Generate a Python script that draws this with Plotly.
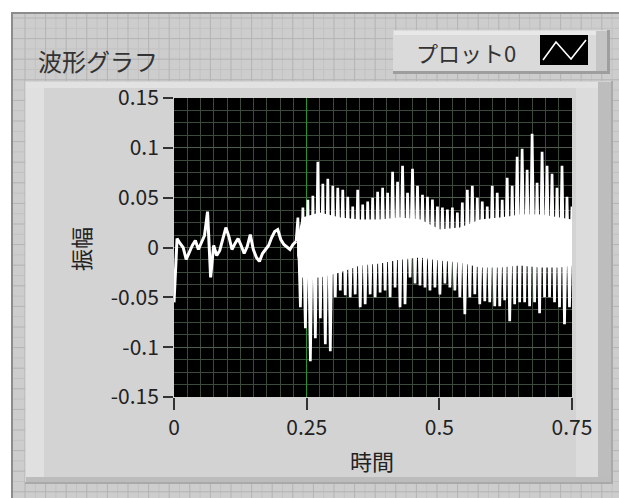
import plotly.graph_objects as go

# ---------------- data ----------------
x_tick_vals = [0, 0.25, 0.5, 0.75]
x_tick_text = ["0", "0.25", "0.5", "0.75"]
y_tick_vals = [-0.15, -0.1, -0.05, 0, 0.05, 0.1, 0.15]
y_tick_text = ["-0.15", "-0.1", "-0.05", "0", "0.05", "0.1", "0.15"]

# quiet segment, t = 0 .. 0.23 (uniform sampling)
quiet_t0 = 0.0
quiet_dt = 0.00575
quiet_vals = [-0.055, 0.009, 0.004, 0.0, -0.012, -0.004, 0.002, 0.007, -0.002, 0.005,
              0.012, 0.036, -0.03, 0.002, -0.008, -0.003, 0.008, 0.02, 0.011, -0.002,
              0.004, 0.009, 0.002, -0.006, 0.001, 0.013, -0.002, -0.01, -0.014, -0.006,
              -0.002, 0.002, 0.01, 0.016, 0.018, 0.008, 0.003, 0.0, -0.002, 0.003, 0.006]

# loud segment: positive and negative spike peaks, alternating
loud_t0 = 0.2335
loud_dt = 0.00939
upper_peaks = [0.03, 0.04, 0.048, 0.052, 0.086, 0.064, 0.069, 0.062, 0.06, 0.058,
               0.051, 0.041, 0.058, 0.043, 0.046, 0.05, 0.056, 0.06, 0.055, 0.076,
               0.066, 0.082, 0.055, 0.079, 0.062, 0.053, 0.051, 0.048, 0.041, 0.04,
               0.038, 0.04, 0.035, 0.045, 0.058, 0.062, 0.05, 0.046, 0.041, 0.062,
               0.055, 0.048, 0.07, 0.062, 0.091, 0.099, 0.078, 0.114, 0.065, 0.096,
               0.082, 0.074, 0.06, 0.082, 0.051, 0.041]
lower_peaks = [-0.06, -0.081, -0.114, -0.091, -0.071, -0.097, -0.104, -0.05, -0.043, -0.048,
               -0.05, -0.047, -0.06, -0.057, -0.047, -0.05, -0.045, -0.043, -0.05, -0.04,
               -0.06, -0.057, -0.03, -0.036, -0.038, -0.04, -0.043, -0.04, -0.047, -0.036,
               -0.04, -0.043, -0.05, -0.067, -0.05, -0.047, -0.057, -0.054, -0.055, -0.059,
               -0.059, -0.053, -0.074, -0.057, -0.055, -0.055, -0.059, -0.055, -0.066, -0.05,
               -0.05, -0.055, -0.06, -0.077, -0.06, -0.057]

# dense (solid white) core of the loud segment
core_t = [0.232, 0.241, 0.275, 0.313, 0.350, 0.388, 0.426, 0.464, 0.501, 0.539,
          0.577, 0.614, 0.652, 0.690, 0.727, 0.75]
core_top = [0.008, 0.03, 0.035, 0.03, 0.028, 0.028, 0.03, 0.028, 0.018, 0.02,
            0.028, 0.03, 0.033, 0.033, 0.03, 0.028]
core_bottom = [-0.008, -0.03, -0.03, -0.025, -0.018, -0.016, -0.012, -0.01, -0.013, -0.015,
               -0.02, -0.02, -0.018, -0.02, -0.02, -0.018]

# ---------------- build series ----------------
quiet_t = [quiet_t0 + i * quiet_dt for i in range(len(quiet_vals))]
loud_t, loud_v = [quiet_t[-1]], [quiet_vals[-1]]
for i, (hi, lo) in enumerate(zip(upper_peaks, lower_peaks)):
    t = loud_t0 + i * loud_dt
    loud_t += [t, t + loud_dt / 2]
    loud_v += [hi, lo]

# ---------------- geometry helpers (pixel -> paper) ----------------
W, H = 619, 498
L, R, T, B = 174, 572, 98, 397


def px(x):
    return (x - L) / (R - L)


def py(y):
    return (B - y) / (B - T)


def rect(x0, y0, x1, y1, fill, line=None, lw=0):
    return dict(type="rect", xref="paper", yref="paper", layer="below",
                x0=px(x0), x1=px(x1), y0=py(y1), y1=py(y0),
                fillcolor=fill, line=dict(color=line or fill, width=lw))


def seg_path(segs):
    return " ".join(f"M{px(a)},{py(b)} L{px(c)},{py(d)}" for a, b, c, d in segs)


shapes = []
# front-panel background with grid
shapes.append(rect(12, 13, 625, 505, "#cdcdcd", "#8c8c8c", 2))
grid_major, grid_minor = [], []
k = 0
x = 25.0
while x < 619:
    (grid_major if k % 2 == 0 else grid_minor).append((x, 14, x, 498))
    x += 10.3
    k += 1
k = 0
y = 18.0
while y < 498:
    (grid_major if k % 2 == 0 else grid_minor).append((13, y, 619, y))
    y += 10.3
    k += 1
shapes.append(dict(type="path", xref="paper", yref="paper", layer="below",
                   path=seg_path(grid_minor), line=dict(color="#c2c2c2", width=1)))
shapes.append(dict(type="path", xref="paper", yref="paper", layer="below",
                   path=seg_path(grid_major), line=dict(color="#b3b3b3", width=1)))

# graph frame (beveled)
shapes.append(rect(25, 81, 613, 484, "#a9a9a9"))
shapes.append(rect(25, 81, 611, 482, "#d3d3d3"))
shapes.append(rect(26, 82, 44, 481, "#e0e0e0"))
shapes.append(rect(26, 82, 610, 88, "#e2e2e2"))
shapes.append(rect(576, 88, 598, 480, "#dcdcdc"))
shapes.append(rect(598, 82, 611, 482, "#bdbdbd"))
shapes.append(rect(26, 477, 611, 482, "#bcbcbc"))

# legend box
shapes.append(rect(393, 30, 610, 74, "#9e9e9e"))
shapes.append(rect(393, 30, 607, 71, "#dadada"))
shapes.append(rect(394, 31, 606, 35, "#e8e8e8"))
shapes.append(rect(596, 31, 607, 71, "#c4c4c4"))
shapes.append(rect(540, 35, 588, 65, "#000000"))
shapes.append(dict(type="path", xref="paper", yref="paper", layer="below",
                   path=f"M{px(543)},{py(60)} L{px(556)},{py(42)} L{px(571)},{py(59)} L{px(586)},{py(40)}",
                   line=dict(color="#ffffff", width=1.6)))

# plot area
shapes.append(dict(type="rect", xref="paper", yref="paper", layer="below",
                   x0=0, x1=1, y0=0, y1=1, fillcolor="#000000", line=dict(width=0)))

FONT = "Noto Sans CJK JP"
annotations = [
    dict(text="波形グラフ", xref="paper", yref="paper", x=px(36), y=py(60),
         xanchor="left", yanchor="middle", showarrow=False,
         font=dict(family=FONT, size=24, color="#333333")),
    dict(text="プロット0", xref="paper", yref="paper", x=px(518), y=py(52),
         xanchor="right", yanchor="middle", showarrow=False,
         font=dict(family=FONT, size=22, color="#333333")),
    dict(text="時間", xref="paper", yref="paper", x=px(372), y=py(460),
         xanchor="center", yanchor="middle", showarrow=False,
         font=dict(family=FONT, size=22, color="#222222")),
    dict(text="振幅", xref="paper", yref="paper", x=px(80), y=py(249),
         xanchor="center", yanchor="middle", showarrow=False, textangle=-90,
         font=dict(family=FONT, size=22, color="#222222")),
]

fig = go.Figure()
fig.add_trace(go.Scatter(
    x=core_t + core_t[::-1], y=core_top + core_bottom[::-1],
    fill="toself", fillcolor="#ffffff", mode="lines", line=dict(width=0, color="#ffffff"),
    hoverinfo="skip", showlegend=False))
fig.add_trace(go.Scatter(
    x=quiet_t, y=quiet_vals, mode="lines",
    line=dict(color="#ffffff", width=3), showlegend=False))
fig.add_trace(go.Scatter(
    x=loud_t, y=loud_v, mode="lines",
    line=dict(color="#ffffff", width=2.7), showlegend=False))

fig.update_layout(
    width=W, height=H,
    margin=dict(l=L, r=W - R, t=T, b=H - B),
    paper_bgcolor="#ffffff", plot_bgcolor="#000000",
    shapes=shapes, annotations=annotations, showlegend=False,
    font=dict(family=FONT, color="#222222"),
    xaxis=dict(range=[0, 0.75], tickvals=x_tick_vals, ticktext=x_tick_text,
               ticks="outside", ticklen=12, tickwidth=1.5, tickcolor="#333333",
               tickfont=dict(family=FONT, size=21, color="#222222"),
               showgrid=True, gridcolor="#23962f", gridwidth=1.3,
               minor=dict(tickvals=[i * 0.025 for i in range(31) if i % 10],
                          showgrid=True, gridcolor="#3c4a3c", gridwidth=1, ticks=""),
               zeroline=False, showline=False, fixedrange=True),
    yaxis=dict(range=[-0.15, 0.15], tickvals=y_tick_vals, ticktext=y_tick_text,
               ticks="outside", ticklen=10, tickwidth=1.5, tickcolor="#333333",
               tickfont=dict(family=FONT, size=21, color="#222222"),
               showgrid=True, gridcolor="#4d5e4d", gridwidth=1,
               minor=dict(dtick=0.0125, showgrid=True, gridcolor="#3c4a3c", gridwidth=1, ticks=""),
               zeroline=False, showline=False, fixedrange=True),
)

fig.write_html("out.html", config={"displayModeBar": False},
               post_script="document.body.style.margin='0px';")
